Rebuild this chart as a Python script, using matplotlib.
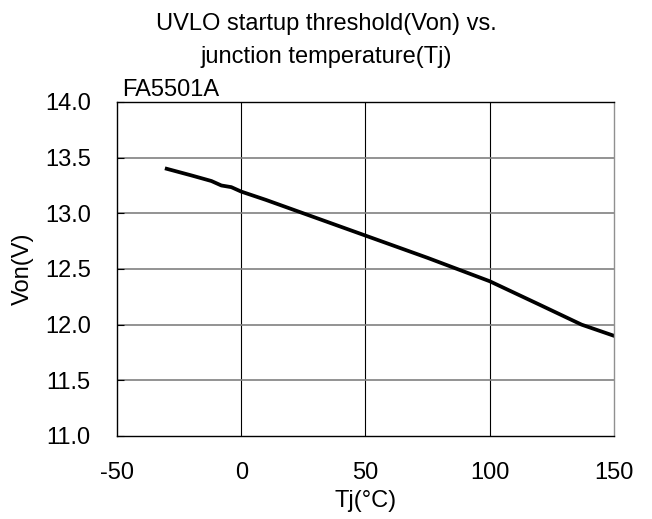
import numpy as np
import matplotlib.pyplot as plt

plt.rcParams['font.family'] = ['Liberation Sans', 'DejaVu Sans']

# data
tj = [-30, -20, -12, -8, -4, 0, 10, 25, 50, 75, 100, 120, 137, 150]
von = [13.40, 13.34, 13.29, 13.25, 13.235, 13.195, 13.12, 13.00, 12.80, 12.60, 12.39, 12.18, 12.00, 11.90]

x_ticks = [-50, 0, 50, 100, 150]
y_ticks = [11.0, 11.5, 12.0, 12.5, 13.0, 13.5, 14.0]

fig = plt.figure(figsize=(6.52, 5.19), dpi=100)
ax = fig.add_axes([0.1795, 0.160, 0.762, 0.6435])

ax.plot(tj, von, color='black', linewidth=2.7)

ax.set_xlim(-50, 150)
ax.set_ylim(11.0, 14.0)
ax.set_xticks(x_ticks)
ax.set_yticks(y_ticks)
ax.set_xticklabels([str(v) for v in x_ticks])
ax.set_yticklabels(['%.1f' % v for v in y_ticks])

# grid: vertical lines black, horizontal ones gray
for xv in x_ticks[1:-1]:
    ax.axvline(xv, color='black', linewidth=0.8, zorder=0)
for yv in y_ticks[1:-1]:
    ax.axhline(yv, color='#808080', linewidth=1.2, zorder=0)

for s in ax.spines.values():
    s.set_linewidth(1.0)
ax.spines['right'].set_color('#909090')

ax.tick_params(axis='y', direction='in', length=5, labelsize=17, pad=19)
ax.tick_params(axis='x', direction='in', length=0, labelsize=17, pad=19)

ax.set_xlabel('Tj(°C)', fontsize=17)
ax.set_ylabel('Von(V)', fontsize=17)
ax.xaxis.set_label_coords(0.5, -0.163)
ax.yaxis.set_label_coords(-0.167, 0.5)

fig.text(0.5, 1 - 30 / 519, 'UVLO startup threshold(Von) vs.', ha='center', va='baseline', fontsize=17)
fig.text(0.5, 1 - 63 / 519, 'junction temperature(Tj)', ha='center', va='baseline', fontsize=17)
fig.text(0.187, 1 - 96 / 519, 'FA5501A', ha='left', va='baseline', fontsize=17)

fig.savefig('out.png', dpi=100)
